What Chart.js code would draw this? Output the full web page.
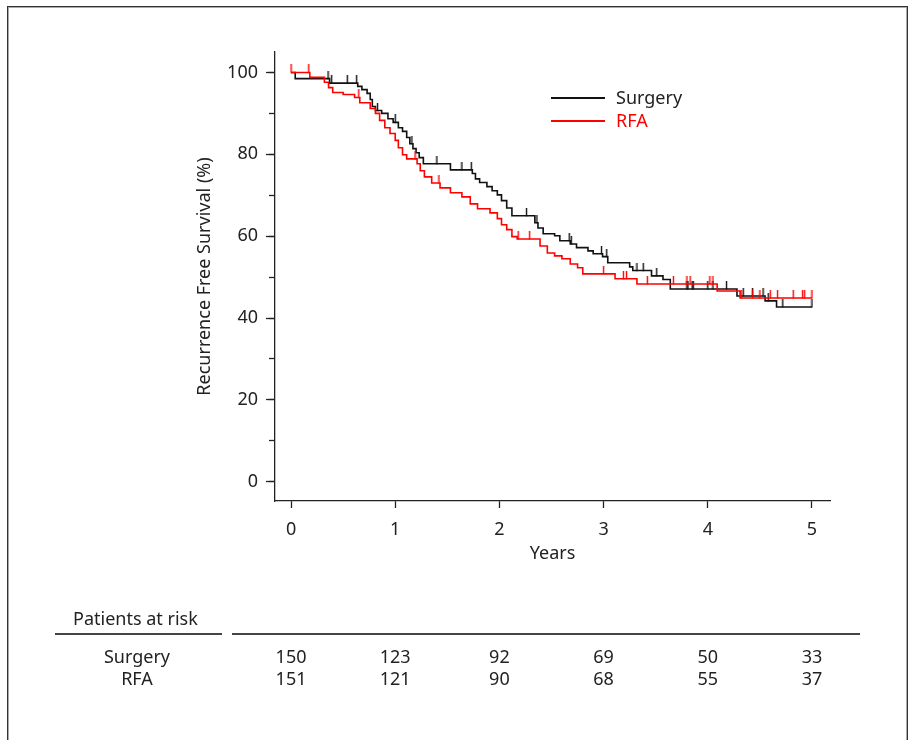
<!DOCTYPE html>
<html lang="en">
<head>
<meta charset="UTF-8">
<title>Recurrence Free Survival</title>
<script src="https://cdn.jsdelivr.net/npm/chart.js@4"></script>
<style>
    * { margin: 0; padding: 0; box-sizing: border-box; }
    body { background: #fff; font-family: "Noto Sans", sans-serif; color: #222; }
    #page { position: relative; width: 909px; height: 740px; overflow: hidden; }
    .frame {
        position: absolute; left: 7px; top: 6px; width: 901px; height: 780px;
        border: 1px solid #333; box-shadow: inset 0 0 0 1px #aaa;
    }
    canvas { position: absolute; left: 0; top: 0; }
    .txt { position: absolute; font-size: 18px; line-height: 24px; white-space: nowrap; }
    .mid { transform: translateX(-50%); }
    .rule { position: absolute; height: 1.5px; background: #444; }
    .key { position: absolute; width: 54px; height: 1.5px; }
</style>
</head>
<body>
<div id="page">
    <div class="frame"></div>
    <canvas id="km" width="909" height="740"></canvas>

    <!-- legend -->
    <div class="key" style="left:551px; top:97px; background:#111;"></div>
    <div class="txt" style="left:616px; top:85px;">Surgery</div>
    <div class="key" style="left:551px; top:120px; background:#ff0000;"></div>
    <div class="txt" style="left:616px; top:108px; color:#ff0000;">RFA</div>

    <!-- patients at risk -->
    <div class="txt" style="left:73px; top:606px;">Patients at risk</div>
    <div class="rule" style="left:55px; top:633px; width:167px;"></div>
    <div class="rule" style="left:232px; top:633px; width:628px;"></div>
    <div class="txt mid" style="left:137px; top:644px;">Surgery</div>
    <div class="txt mid" style="left:137px; top:666px;">RFA</div>
    <div id="riskRows"></div>
</div>

<script>
    // Kaplan-Meier steps (years, % recurrence free)
    const surgeryTimes = [0, 0.04, 0.37, 0.64, 0.68, 0.73, 0.76, 0.78, 0.81, 0.87, 0.93, 0.98, 1.03, 1.07, 1.11, 1.14, 1.17, 1.20, 1.23, 1.27, 1.53, 1.74, 1.77, 1.81, 1.88, 1.93, 1.98, 2.02, 2.07, 2.12, 2.34, 2.37, 2.42, 2.53, 2.58, 2.68, 2.74, 2.85, 2.90, 2.99, 3.04, 3.25, 3.28, 3.46, 3.57, 3.64, 4.28, 4.55, 4.66, 5.0];
    const surgerySurv = [100, 98.5, 97.4, 96.6, 95.8, 94.9, 93.4, 91.7, 90.7, 90.0, 88.7, 87.8, 86.5, 85.6, 84.1, 82.6, 81.4, 80.4, 79.2, 77.7, 76.2, 75.3, 74.0, 73.1, 72.1, 71.1, 70.1, 68.7, 66.9, 65.0, 63.3, 62.0, 60.6, 60.1, 58.9, 58.1, 57.2, 56.4, 55.7, 55.0, 53.5, 52.5, 51.6, 50.3, 49.4, 47.1, 45.4, 44.2, 42.7, 42.7];
    const surgeryCensor = [0.355, 0.39, 0.54, 0.63, 0.83, 1.0, 1.16, 1.40, 1.64, 1.73, 2.26, 2.36, 2.67, 2.69, 2.98, 3.03, 3.32, 3.38, 3.51, 3.80, 3.81, 3.85, 3.86, 4.00, 4.05, 4.18, 4.34, 4.43, 4.53, 4.58, 4.72, 5.0];

    const rfaTimes = [0, 0.18, 0.32, 0.36, 0.40, 0.50, 0.61, 0.66, 0.76, 0.81, 0.85, 0.90, 0.95, 1.00, 1.03, 1.07, 1.11, 1.21, 1.24, 1.28, 1.35, 1.43, 1.53, 1.64, 1.72, 1.79, 1.91, 1.98, 2.02, 2.07, 2.12, 2.17, 2.39, 2.46, 2.53, 2.60, 2.68, 2.75, 2.80, 3.11, 3.32, 4.09, 4.31, 5.0];
    const rfaSurv = [100, 98.8, 97.6, 96.3, 95.1, 94.6, 93.9, 92.6, 91.2, 90.0, 88.3, 86.5, 85.1, 83.4, 81.6, 79.9, 78.9, 77.7, 76.0, 74.5, 73.0, 71.8, 70.6, 69.6, 67.9, 66.7, 65.7, 64.3, 62.8, 61.6, 59.9, 59.3, 57.6, 55.9, 55.2, 54.5, 53.2, 52.3, 50.8, 49.6, 48.3, 46.6, 44.9, 44.9];
    const rfaCensor = [0, 0.17, 0.65, 1.19, 1.42, 2.18, 2.29, 3.0, 3.19, 3.22, 3.42, 3.67, 3.80, 3.83, 4.02, 4.05, 4.32, 4.43, 4.50, 4.60, 4.67, 4.82, 4.91, 4.93, 5.0];

    const yearTicks = [0, 1, 2, 3, 4, 5];
    const yLabelTicks = [0, 20, 40, 60, 80, 100];
    const yMinorTicks = [0, 10, 20, 30, 40, 50, 60, 70, 80, 90, 100];
    const riskSurgery = [150, 123, 92, 69, 50, 33];
    const riskRfa = [151, 121, 90, 68, 55, 37];

    const FONT = '"Noto Sans", sans-serif';
    const INK = '#222';

    function stepPoints(times, surv) {
        return times.map((t, i) => ({ x: t, y: surv[i] }));
    }

    // survival level of the curve at time t (used to sit censor marks on it)
    function survAt(times, surv, t) {
        let s = surv[0];
        for (let i = 0; i < times.length; i++) {
            if (times[i] <= t) s = surv[i];
        }
        return s;
    }

    function censorPoints(times, surv, cens) {
        return cens.map(t => ({ x: t, y: survAt(times, surv, t) }));
    }

    // small upright tick standing on the curve
    function tickMark(color) {
        const c = document.createElement('canvas');
        c.width = 3;
        c.height = 16;
        const g = c.getContext('2d');
        g.strokeStyle = color;
        g.lineWidth = 1.4;
        g.beginPath();
        g.moveTo(1.5, 0);
        g.lineTo(1.5, 8.5);
        g.stroke();
        return c;
    }

    const fixedTicks = list => scale => { scale.ticks = list.map(v => ({ value: v })); };

    const chart = new Chart(document.getElementById('km'), {
        type: 'line',
        data: {
            datasets: [
                {
                    label: 'RFA',
                    data: stepPoints(rfaTimes, rfaSurv),
                    borderColor: '#ff0000',
                    borderWidth: 1.6,
                    stepped: true,
                    pointRadius: 0,
                    fill: false
                },
                {
                    label: 'RFA censored',
                    type: 'scatter',
                    data: censorPoints(rfaTimes, rfaSurv, rfaCensor),
                    pointStyle: tickMark('#ff0000'),
                    pointRadius: 8,
                    showLine: false
                },
                {
                    label: 'Surgery',
                    data: stepPoints(surgeryTimes, surgerySurv),
                    borderColor: '#111',
                    borderWidth: 1.6,
                    stepped: true,
                    pointRadius: 0,
                    fill: false
                },
                {
                    label: 'Surgery censored',
                    type: 'scatter',
                    data: censorPoints(surgeryTimes, surgerySurv, surgeryCensor),
                    pointStyle: tickMark('#111'),
                    pointRadius: 8,
                    showLine: false
                }
            ]
        },
        options: {
            responsive: false,
            animation: false,
            layout: { padding: { left: 194, top: 52, right: 79, bottom: 175 } },
            plugins: { legend: { display: false }, tooltip: { enabled: false } },
            scales: {
                x: {
                    type: 'linear',
                    min: -0.154,
                    max: 5.173,
                    afterBuildTicks: fixedTicks(yearTicks),
                    afterFit: s => { s.height = 64; },
                    grid: { drawOnChartArea: false, tickLength: 7, tickColor: INK, tickWidth: 1.3 },
                    border: { display: true, color: INK, width: 1.3 },
                    ticks: { padding: 11, color: INK, maxRotation: 0, font: { family: FONT, size: 18 } },
                    title: { display: true, text: 'Years', color: INK, padding: 0, font: { family: FONT, size: 18 } }
                },
                y: {
                    type: 'linear',
                    position: 'left',
                    weight: 1,
                    min: -4.7,
                    max: 105,
                    afterBuildTicks: fixedTicks(yLabelTicks),
                    afterFit: s => { s.width = 81; },
                    grid: { drawOnChartArea: false, tickLength: 9, tickColor: INK, tickWidth: 1.3 },
                    border: { display: true, color: INK, width: 1.3 },
                    ticks: { padding: 8, color: INK, font: { family: FONT, size: 18 } },
                    title: { display: true, text: 'Recurrence Free Survival (%)', color: INK, padding: 0, font: { family: FONT, size: 18 } }
                },
                yMinor: {
                    type: 'linear',
                    position: 'left',
                    weight: 0,
                    min: -4.7,
                    max: 105,
                    afterBuildTicks: fixedTicks(yMinorTicks),
                    afterFit: s => { s.width = 0; },
                    grid: { drawOnChartArea: false, tickLength: 6, tickColor: INK, tickWidth: 1.3 },
                    border: { display: false },
                    ticks: { display: false }
                }
            }
        }
    });

    // numbers at risk, lined up under the year ticks
    const rows = document.getElementById('riskRows');
    yearTicks.forEach((yr, i) => {
        const px = chart.scales.x.getPixelForValue(yr);
        [[riskSurgery[i], 644], [riskRfa[i], 666]].forEach(([n, top]) => {
            const d = document.createElement('div');
            d.className = 'txt mid';
            d.style.left = px + 'px';
            d.style.top = top + 'px';
            d.textContent = n;
            rows.appendChild(d);
        });
    });
</script>
</body>
</html>
